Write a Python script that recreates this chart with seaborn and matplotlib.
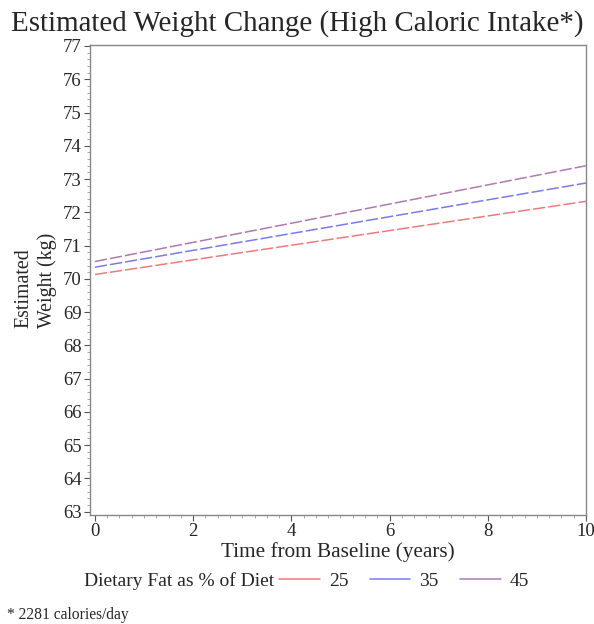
import matplotlib
matplotlib.use("Agg")
import matplotlib.pyplot as plt
from matplotlib.ticker import MultipleLocator
from matplotlib.lines import Line2D
import seaborn as sns
import pandas as pd

years = [0, 10]
fat_levels = ["25", "35", "45"]
weight_25 = [70.13, 72.33]
weight_35 = [70.35, 72.88]
weight_45 = [70.52, 73.40]

df = pd.DataFrame({
    "Time": years * 3,
    "Weight": weight_25 + weight_35 + weight_45,
    "Fat": [fat_levels[0]] * 2 + [fat_levels[1]] * 2 + [fat_levels[2]] * 2,
})

sns.set_style("white")
plt.rcParams["font.family"] = ["Liberation Serif", "DejaVu Serif"]

fig = plt.figure(figsize=(5.94, 6.24), dpi=100)
ax = fig.add_axes([0.1515, 0.1747, 0.835, 0.7532])
palette = {"25": "#EE7A7A", "35": "#7A7AEE", "45": "#B07AB0"}
sns.lineplot(data=df, x="Time", y="Weight", hue="Fat", palette=palette, ax=ax,
             linewidth=1.1, legend=False)
for line in ax.get_lines():
    line.set_dashes([8, 2])

ax.set_xlim(-0.1, 10.0)
ax.set_ylim(62.9, 77.03)
ax.xaxis.set_major_locator(MultipleLocator(2))
ax.xaxis.set_minor_locator(MultipleLocator(0.25))
ax.yaxis.set_major_locator(MultipleLocator(1))
ax.yaxis.set_minor_locator(MultipleLocator(0.2))
ax.tick_params(axis="both", which="major", direction="out", length=4, width=0.8,
               labelsize=13.5, color="#555555", left=True, bottom=True, pad=2)
ax.tick_params(axis="both", which="minor", direction="out", length=2, width=0.6,
               color="#999999", left=True, bottom=True)
for s in ax.spines.values():
    s.set_color("#888888")
    s.set_linewidth(1.0)

ax.set_xlabel("Time from Baseline (years)", fontsize=15.3, labelpad=1)
ax.set_ylabel("Estimated\nWeight (kg)", fontsize=14.3, linespacing=1.25,
              multialignment="left")
ax.yaxis.set_label_coords(-0.067, 0.5)
fig.text(0.5, 0.962, "Estimated Weight Change (High Caloric Intake*)",
         ha="center", va="center", fontsize=20.9)

handles = [Line2D([], [], color=palette[f], lw=1.1) for f in fat_levels]
fig.text(0.462, 0.069, "Dietary Fat as % of Diet", ha="right", va="center", fontsize=14)
fig.legend(handles, fat_levels, loc="center left", bbox_to_anchor=(0.47, 0.069),
           ncol=3, frameon=False, fontsize=14, handlelength=2.1, columnspacing=1.1,
           handletextpad=0.45, borderaxespad=0, borderpad=0)
fig.text(0.012, 0.014, "* 2281 calories/day", ha="left", va="center", fontsize=11.2)

fig.savefig("out.png", dpi=100)
